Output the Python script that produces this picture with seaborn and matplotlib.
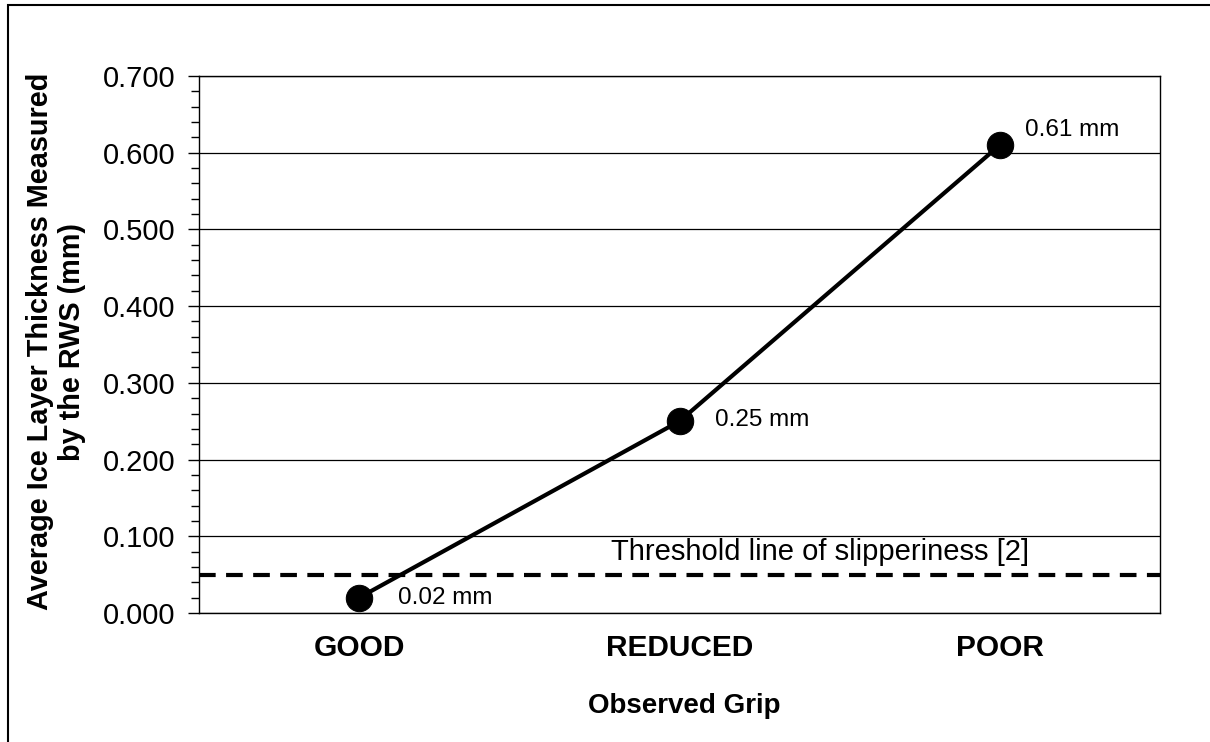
import matplotlib
matplotlib.use("Agg")
import matplotlib.pyplot as plt
import seaborn as sns
import numpy as np
from matplotlib.patches import Rectangle
from matplotlib.ticker import MultipleLocator, FormatStrFormatter

grip = ["GOOD", "REDUCED", "POOR"]
thickness = [0.02, 0.25, 0.61]
point_labels = ["0.02 mm", "0.25 mm", "0.61 mm"]
threshold = 0.05
threshold_label = "Threshold line of slipperiness [2]"

sns.set_style("white")
plt.rcParams['font.family'] = ['Liberation Sans', 'DejaVu Sans']
plt.rcParams['text.color'] = 'black'
plt.rcParams['axes.labelcolor'] = 'black'
plt.rcParams['xtick.color'] = 'black'
plt.rcParams['ytick.color'] = 'black'

fig = plt.figure(figsize=(12.1, 7.42), dpi=100)
ax = fig.add_axes([0.1645, 0.1739, 0.7942, 0.7237])

sns.lineplot(x=grip, y=thickness, ax=ax, color='black', linewidth=3,
             marker='o', markersize=19, markeredgecolor='black', sort=False)

ax.set_xlim(-0.5, 2.5)
ax.set_ylim(0, 0.7)
ax.axhline(threshold, color='black', linestyle=(0, (4, 2.5)), linewidth=3)
ax.text(0.785, threshold + 0.029, threshold_label, fontsize=21, va='center', ha='left')

# point annotations
offsets = [(0.12, 0.0), (0.11, 0.002), (0.08, 0.02)]
for i, (lab, (dx, dy)) in enumerate(zip(point_labels, offsets)):
    ax.text(i + dx, thickness[i] + dy, lab, fontsize=17.5, va='center', ha='left')

# axes styling
ax.yaxis.set_major_locator(MultipleLocator(0.1))
ax.yaxis.set_minor_locator(MultipleLocator(0.02))
ax.yaxis.set_major_formatter(FormatStrFormatter('%.3f'))
ax.grid(axis='y', which='major', color='black', linewidth=0.9)
ax.set_axisbelow(True)
for s in ax.spines.values():
    s.set_visible(True)
    s.set_color('black')
    s.set_linewidth(1.0)

ax.set_xticks([0, 1, 2])
ax.set_xticklabels(grip, fontsize=21.5, fontweight='bold')
ax.set_xticks(np.arange(-0.5, 2.6, 0.5), minor=True)
ax.tick_params(axis='x', which='major', length=0, pad=15)
ax.tick_params(axis='x', which='minor', length=4, width=1, direction='out')
ax.tick_params(axis='y', which='major', length=8, width=1, direction='out',
               labelsize=21, pad=9, left=True)
ax.tick_params(axis='y', which='minor', length=6, width=1, direction='out', left=True)

ax.set_xlabel("Observed Grip", fontsize=20, fontweight='bold')
ax.set_ylabel("Average Ice Layer Thickness Measured\nby the RWS (mm)", fontsize=20.8,
              fontweight='bold', linespacing=1.2)
ax.xaxis.set_label_coords(0.505, -0.149)
ax.yaxis.set_label_coords(-0.1176, 0.505)

# outer frame
fig.patches.append(Rectangle((8 / 1210, -0.05), 1.2, 1 - 5 / 742 + 0.05,
                             transform=fig.transFigure, fill=False,
                             edgecolor='black', linewidth=1.5))

fig.savefig("out.png", dpi=100)
